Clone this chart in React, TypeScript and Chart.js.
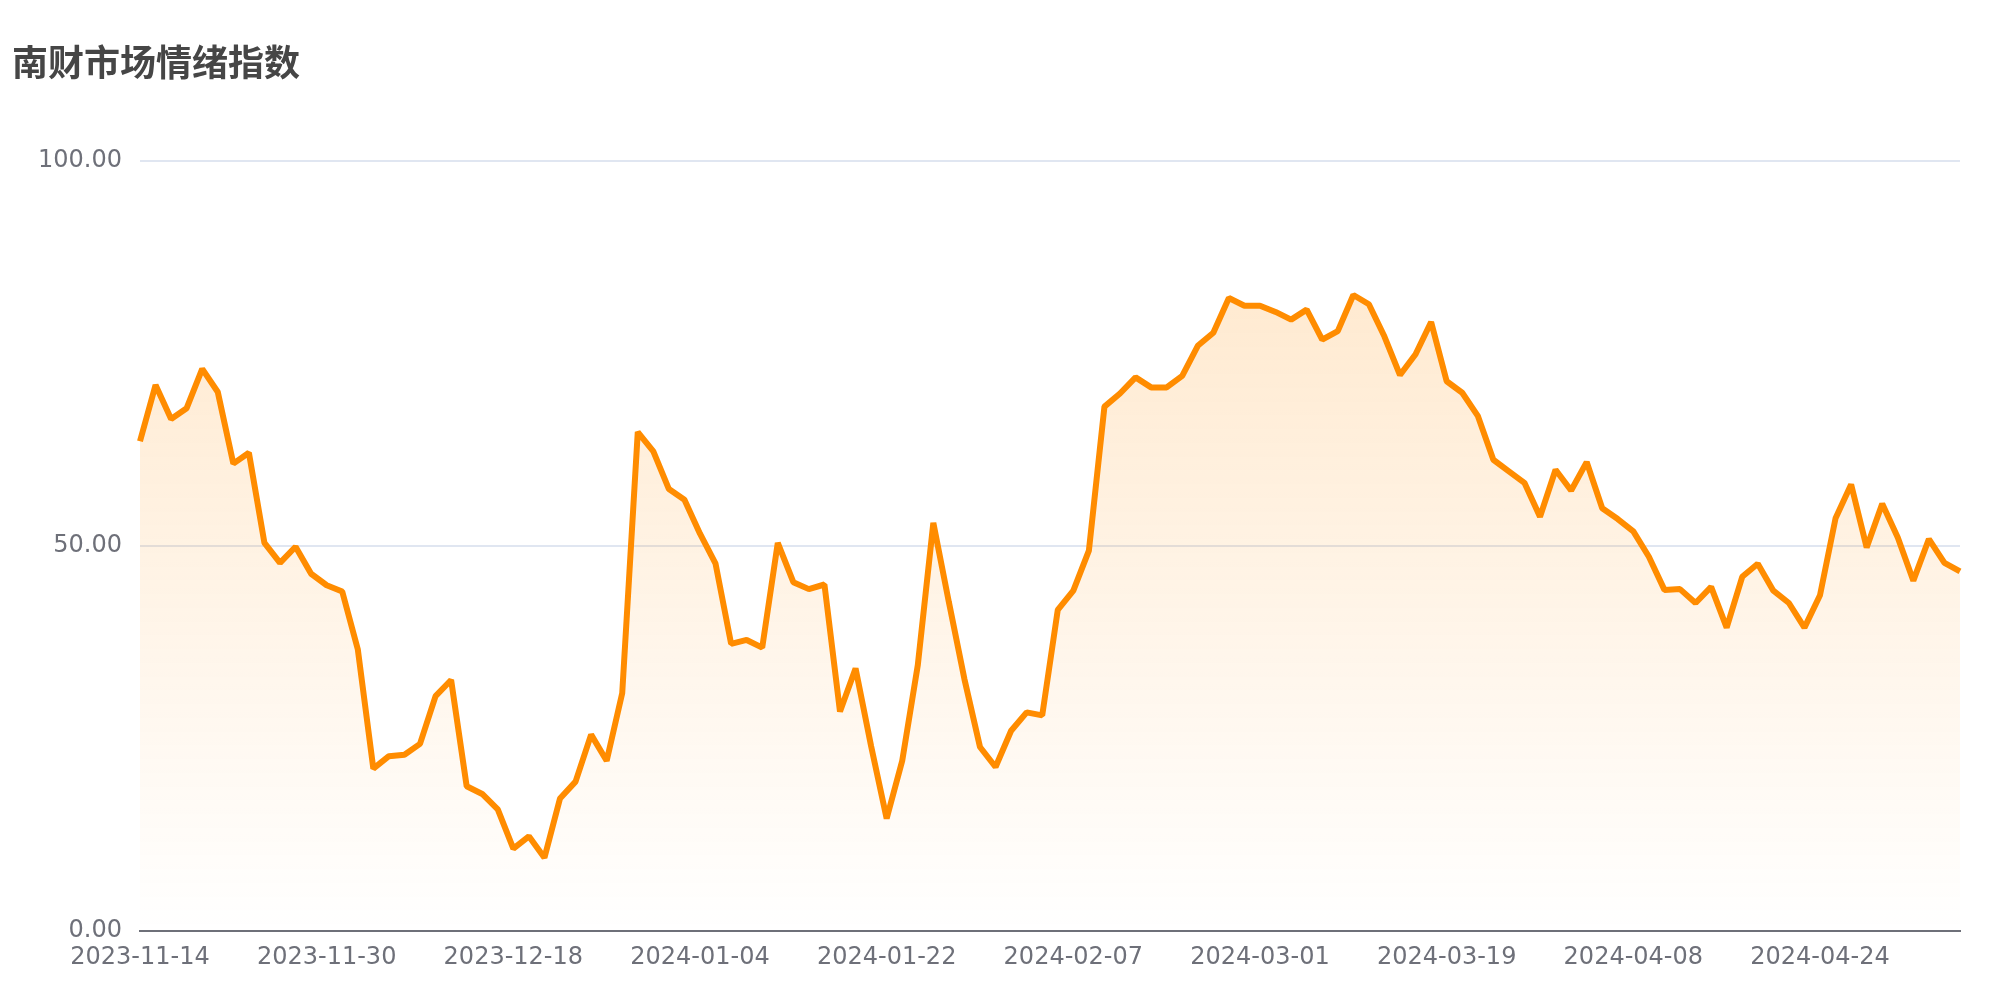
import React, { useEffect, useRef } from "react";
import { Chart, registerables } from "chart.js";

Chart.register(...registerables);

const TITLE = "南财市场情绪指数";

const dates: string[] = [
  "2023-11-14", "2023-11-15", "2023-11-16", "2023-11-17", "2023-11-20", "2023-11-21", "2023-11-22", "2023-11-23", "2023-11-24", "2023-11-27",
  "2023-11-28", "2023-11-29", "2023-11-30", "2023-12-01", "2023-12-04", "2023-12-05", "2023-12-06", "2023-12-07", "2023-12-08", "2023-12-11",
  "2023-12-12", "2023-12-13", "2023-12-14", "2023-12-15", "2023-12-18", "2023-12-19", "2023-12-20", "2023-12-21", "2023-12-22", "2023-12-25",
  "2023-12-26", "2023-12-27", "2023-12-28", "2023-12-29", "2024-01-02", "2024-01-03", "2024-01-04", "2024-01-05", "2024-01-08", "2024-01-09",
  "2024-01-10", "2024-01-11", "2024-01-12", "2024-01-15", "2024-01-16", "2024-01-17", "2024-01-18", "2024-01-19", "2024-01-22", "2024-01-23",
  "2024-01-24", "2024-01-25", "2024-01-26", "2024-01-29", "2024-01-30", "2024-01-31", "2024-02-01", "2024-02-02", "2024-02-05", "2024-02-06",
  "2024-02-07", "2024-02-08", "2024-02-09", "2024-02-19", "2024-02-20", "2024-02-21", "2024-02-22", "2024-02-23", "2024-02-26", "2024-02-27",
  "2024-02-28", "2024-02-29", "2024-03-01", "2024-03-04", "2024-03-05", "2024-03-06", "2024-03-07", "2024-03-08", "2024-03-11", "2024-03-12",
  "2024-03-13", "2024-03-14", "2024-03-15", "2024-03-18", "2024-03-19", "2024-03-20", "2024-03-21", "2024-03-22", "2024-03-25", "2024-03-26",
  "2024-03-27", "2024-03-28", "2024-03-29", "2024-04-01", "2024-04-02", "2024-04-03", "2024-04-08", "2024-04-09", "2024-04-10", "2024-04-11",
  "2024-04-12", "2024-04-15", "2024-04-16", "2024-04-17", "2024-04-18", "2024-04-19", "2024-04-22", "2024-04-23", "2024-04-24", "2024-04-25",
  "2024-04-26", "2024-04-29", "2024-04-30", "2024-05-06", "2024-05-07", "2024-05-08", "2024-05-09", "2024-05-10",
];

const sentiment: number[] = [
  63.6, 70.9, 66.5, 67.9, 73.0, 70.0, 60.7, 62.1, 50.4, 47.8,
  49.9, 46.4, 44.9, 44.1, 36.6, 21.1, 22.7, 22.9, 24.3, 30.5,
  32.6, 18.8, 17.8, 15.8, 10.7, 12.3, 9.5, 17.2, 19.4, 25.5,
  22.1, 30.9, 64.8, 62.3, 57.4, 56.0, 51.6, 47.7, 37.3, 37.8,
  36.8, 50.4, 45.3, 44.4, 45.0, 28.5, 34.1, 24.0, 14.6, 22.1,
  34.5, 53.0, 42.7, 32.7, 23.9, 21.3, 26.0, 28.4, 28.0, 41.7,
  44.2, 49.4, 68.1, 69.8, 71.9, 70.6, 70.6, 72.1, 76.0, 77.7,
  82.2, 81.2, 81.2, 80.4, 79.4, 80.7, 76.8, 77.9, 82.6, 81.4,
  77.2, 72.2, 74.9, 79.1, 71.4, 69.9, 66.9, 61.2, 59.7, 58.2,
  53.8, 59.9, 57.2, 60.9, 54.9, 53.5, 51.9, 48.6, 44.3, 44.4,
  42.6, 44.7, 39.4, 46.0, 47.7, 44.2, 42.6, 39.4, 43.6, 53.6,
  58.0, 49.8, 55.5, 51.1, 45.5, 50.9, 47.8, 46.7,
];

const yMin = 0;
const yMax = 100;
const yStep = 50;
const labelEvery = 12;

const titlePlugin = {
  id: "customTitle",
  afterDraw(chart: any) {
    const ctx = chart.ctx;
    ctx.save();
    ctx.font = "bold 36px 'Noto Sans CJK SC', sans-serif";
    ctx.fillStyle = "#464646";
    ctx.textAlign = "left";
    ctx.textBaseline = "middle";
    ctx.fillText(TITLE, 12, 62);
    ctx.restore();
  },
};

export default function App() {
  const canvasRef = useRef<HTMLCanvasElement | null>(null);

  useEffect(() => {
    document.body.style.margin = "0";
    const canvas = canvasRef.current;
    if (!canvas) return;
    const chart = new Chart(canvas, {
      type: "line",
      data: {
        labels: dates,
        datasets: [
          {
            label: TITLE,
            data: sentiment,
            borderColor: "rgb(255,140,0)",
            borderWidth: 6,
            borderJoinStyle: "bevel",
            pointRadius: 0,
            pointHoverRadius: 0,
            tension: 0,
            fill: "origin",
            backgroundColor: (context: any) => {
              const c = context.chart;
              const area = c.chartArea;
              if (!area) return "rgba(255,140,0,0.15)";
              const g = c.ctx.createLinearGradient(0, area.top, 0, area.bottom);
              g.addColorStop(0, "rgba(255,140,0,0.22)");
              g.addColorStop(1, "rgba(255,140,0,0.0)");
              return g;
            },
          },
        ],
      },
      options: {
        responsive: false,
        animation: false,
        devicePixelRatio: 1,
        layout: { padding: { top: 161, right: 40, bottom: 0, left: 0 } },
        plugins: {
          legend: { display: false },
          title: { display: false },
          tooltip: { enabled: false },
        },
        scales: {
          x: {
            type: "category",
            offset: false,
            grid: { display: false, drawTicks: false },
            border: { display: true, color: "#6e7079", width: 2 },
            ticks: {
              autoSkip: false,
              maxRotation: 0,
              minRotation: 0,
              padding: 12,
              color: "#6e7079",
              font: { size: 24, family: "'DejaVu Sans', sans-serif" },
              callback: (_v: any, i: number) => (i % labelEvery === 0 ? dates[i] : null),
            },
            afterFit: (scale: any) => {
              scale.height = 69;
            },
          },
          y: {
            min: yMin,
            max: yMax,
            grid: { color: "#e0e6f1", lineWidth: 2, drawTicks: false },
            border: { display: false },
            ticks: {
              stepSize: yStep,
              padding: 18,
              color: "#6e7079",
              font: { size: 24, family: "'DejaVu Sans', sans-serif" },
              callback: (v: any) => Number(v).toFixed(2),
            },
            afterFit: (scale: any) => {
              scale.width = 140;
            },
          },
        },
      },
      plugins: [titlePlugin],
    });
    return () => chart.destroy();
  }, []);

  return (
    <div style={{ width: 2000, height: 1000, background: "#fff" }}>
      <canvas ref={canvasRef} width={2000} height={1000} style={{ display: "block" }} />
    </div>
  );
}
